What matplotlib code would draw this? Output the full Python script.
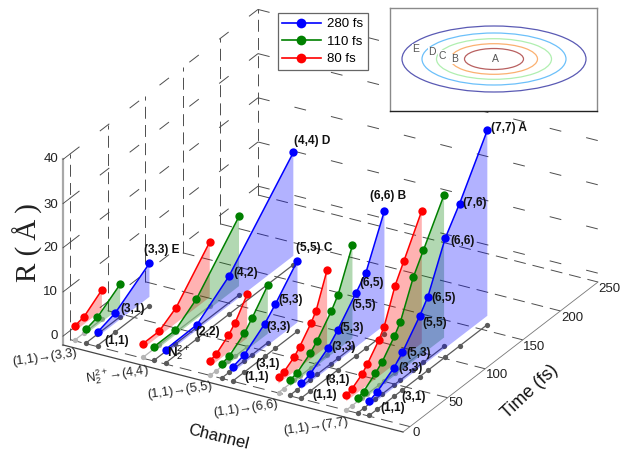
import matplotlib
matplotlib.use("Agg")
import matplotlib.pyplot as plt
from matplotlib.patches import Ellipse
from mpl_toolkits.mplot3d import proj3d
from mpl_toolkits.mplot3d.art3d import Poly3DCollection

plt.rcParams['font.family'] = ['Liberation Sans', 'DejaVu Sans']
plt.rcParams['mathtext.fontset'] = 'custom'
plt.rcParams['mathtext.rm'] = 'Liberation Sans'
plt.rcParams['mathtext.bf'] = 'Liberation Sans:bold'
plt.rcParams['lines.scale_dashes'] = False

# ---- data ----
channels = ['(1,1)→(3,3)', r'$\mathrm{N}_2^{2+}$→(4,4)', '(1,1)→(5,5)', '(1,1)→(6,6)', '(1,1)→(7,7)']
time_ticks = [0, 50, 100, 150, 200, 250]
r_ticks = [0, 10, 20, 30, 40]

t_80 = [[1, 13.4, 37],
        [1, 22.7, 45.3, 90],
        [0.2, 8.5, 24.5, 33.4, 49.3],
        [0.6, 7.5, 21.4, 28.7, 43.6, 50.6, 65.2],
        [0.2, 7.7, 21.4, 28.4, 43.6, 50.6, 65.2, 76.8, 100.7]]
r_80 = [[1.2, 1.7, 4.65],
        [1.1, 1.1, 3.5, 12.5],
        [1.3, 1.8, 3.9, 5.6, 9.9],
        [1.4, 1.7, 3.3, 4.7, 8, 10, 17.3],
        [1.4, 1.8, 3.4, 4.8, 8.2, 10.3, 17.7, 21.7, 30]]
t_110 = [[1.2, 16.2, 46.4],
         [0.8, 29.1, 57.4, 114],
         [0.8, 10.9, 30.8, 41, 61.9],
         [0.8, 10.1, 27.8, 37, 55.7, 65, 84],
         [0.8, 8.3, 24.2, 32.7, 49.4, 57.4, 74.7, 88, 115.4]]
r_110 = [[1.1, 1.85, 5.35],
         [1.1, 1.1, 4.5, 15.8],
         [1.2, 1.7, 4.2, 6.3, 11],
         [1.4, 1.8, 3.95, 5.6, 9.8, 12.4, 21.1],
         [1.35, 1.8, 3.9, 5.2, 8.95, 11.2, 19.1, 23.4, 32.3]]
t_280 = [[1.4, 24.9, 70.4],
         [1.4, 43, 85.6, 171.3],
         [0.6, 15.2, 43, 57.1, 86.4],
         [1, 12.9, 36.8, 49.2, 74, 86.9, 111.6],
         [1, 11.6, 33.8, 45, 68, 79, 102, 121, 158]]
r_280 = [[1.05, 2.3, 7.6],
         [1.05, 1.2, 6.6, 23.4],
         [1.2, 1.9, 5.4, 8, 14],
         [1.3, 1.9, 4.7, 7, 12.3, 15.1, 25.9],
         [1.2, 2, 4.5, 6.5, 11.7, 14.7, 24.9, 30.2, 42]]

point_labels = ['(3,3) E', '(3,1)', '(1,1)', '(4,4) D', '(4,2)', '(2,2)',
                '(5,5) C', '(5,3)', '(3,3)', '(3,1)', '(1,1)',
                '(6,6) B', '(6,5)', '(5,5)', '(5,3)', '(3,3)', '(3,1)', '(1,1)',
                '(7,7) A', '(7,6)', '(6,6)', '(6,5)', '(5,5)', '(5,3)', '(3,3)', '(3,1)', '(1,1)']
point_label_px = [(162, 250), (133, 309), (117, 341), (312, 141), (246, 273), (208, 332),
                  (314, 248), (291, 300), (279, 327), (268, 364), (257, 377),
                  (388, 196), (372, 283), (364, 305), (352, 328), (344, 347), (338, 380), (325, 395),
                  (509, 128), (475, 203), (463, 241), (444, 298), (435, 323), (419, 353), (411, 368), (414, 397), (393, 408)]

contour_names = ['E', 'D', 'C', 'B', 'A']
contour_widths = [184, 144, 115, 87, 59]
contour_heights = [66, 52, 40.6, 30.6, 21]
contour_colors = ['#5a5ab4', '#6cc0fa', '#b0efb0', '#fbb070', '#b86060']
contour_label_px = [(415.7, 49.3), (431.7, 52.3), (442, 55.7), (454.3, 59), (495.3, 59.3)]

# ---- geometry ----
W, H = 640, 453
XMIN, XMAX = 0.775, 5.775
TMIN, TMAX = -9.3, 250
ZMIN, ZMAX = -2, 40
SERIES_DX = 0.165
FLOOR_R = -2
GRID = '#4d4d4d'

fig = plt.figure(figsize=(W / 100, H / 100), dpi=100, facecolor='white')
ax = fig.add_axes([0, 0, 1, 1], projection='3d', computed_zorder=False)
ax.set_proj_type('ortho')
ax.view_init(elev=26.34, azim=-60.02)
ax.set_box_aspect((392.6, 390.3, 207.1))
ax.set_axis_off()


def line3(xs, ys, zs, **kw):
    kw.setdefault('color', GRID)
    kw.setdefault('lw', 0.7)
    return ax.plot(xs, ys, zs, **kw)


dash_wall = (0, (8.6, 18.5))
dash_vert = (0, (8.6, 4.5))
dash_floor = (0, (8.6, 5))

# left wall grid
for t in time_ticks:
    line3([XMIN, XMIN], [t, t], [ZMIN, 40], ls=dash_vert, zorder=1)
for r in r_ticks:
    line3([XMIN, XMIN], [0, TMAX], [r, r], ls=dash_wall, zorder=1)
    line3([XMIN, XMAX], [TMAX, TMAX], [r, r], ls=dash_wall, zorder=1)
# floor grid
for t in time_ticks:
    line3([XMIN, XMAX], [t, t], [ZMIN, ZMIN], ls=dash_floor, zorder=1)

# box edges and ticks
line3([XMIN, XMIN], [TMIN, TMIN], [ZMIN, 40], color='#a8a8a8', lw=1.6, zorder=2)
line3([XMIN, XMAX], [TMIN, TMIN], [ZMIN, ZMIN], color='#444444', lw=0.9, zorder=2)
line3([XMAX, XMAX], [TMIN, TMAX], [ZMIN, ZMIN], color='#777777', lw=0.6, zorder=2)
for r in r_ticks:
    line3([XMIN, XMIN], [TMIN, 0], [r, r], color='#444444', lw=0.6, zorder=2)

styles = ['#ff0000', '#008000', '#0000ff']
floor_colors = ['#b4b4b4', '#5a5a5a', '#5a5a5a']
series = [(t_80, r_80, '80 fs'), (t_110, r_110, '110 fs'), (t_280, r_280, '280 fs')]
handles = {}
zo = 10
for k in range(len(channels)):
    for s, (tt, rr, name) in enumerate(series):
        x = k + 1 + (s - 1) * SERIES_DX
        n = len(tt[k])
        line3([x] * n, tt[k], [FLOOR_R] * n, color=floor_colors[s], lw=0.9, marker='o', ms=3.8,
              mec='none', zorder=zo)
        zo += 1
    for s, (tt, rr, name) in enumerate(series):
        x = k + 1 + (s - 1) * SERIES_DX
        n = len(tt[k])
        col = styles[s]
        verts = [(x, a, b) for a, b in zip(tt[k], rr[k])] + [(x, tt[k][-1], 0), (x, tt[k][0], 0)]
        poly = Poly3DCollection([verts], facecolors=[matplotlib.colors.to_rgba(col, 0.30)],
                                edgecolors='none', zorder=zo)
        ax.add_collection3d(poly)
        zo += 1
        ln, = ax.plot([x] * n, tt[k], rr[k], color=col, lw=1.1, marker='o', ms=6.0, mec='none',
                      zorder=zo, label=name)
        handles[name] = ln
        zo += 1

ax.set_xlim(XMIN, XMAX)
ax.set_ylim(TMIN, TMAX)
ax.set_zlim(ZMIN, ZMAX)

# fit the 3D box onto the page
targets = [((XMIN, TMIN, ZMIN), (63, 345)), ((XMAX, TMIN, ZMIN), (403, 432)), ((XMAX, TMAX, ZMIN), (598, 282))]
for _ in range(2):
    fig.canvas.draw()
    proj = ax.get_proj()
    pts = []
    for (x3, y3, z3), _px in targets:
        X, Y, _z = proj3d.proj_transform(x3, y3, z3, proj)
        pts.append(ax.transData.transform((X, Y)))
    bb = ax.get_position().transformed(fig.transFigure)
    cx, cy, w = (bb.x0 + bb.x1) / 2, (bb.y0 + bb.y1) / 2, bb.width
    ratio = (598 - 63) / (pts[2][0] - pts[0][0])
    ncx = sum(t[1][0] - (p[0] - cx) * ratio for t, p in zip(targets, pts)) / 3
    ncy = sum((H - t[1][1]) - (p[1] - cy) * ratio for t, p in zip(targets, pts)) / 3
    nw = w * ratio
    ax.set_position([(ncx - nw / 2) / W, (ncy - nw / 2) / H, nw / W, nw / H])


def ptext(px, py, s, **kw):
    kw.setdefault('ha', 'center')
    kw.setdefault('va', 'center')
    return fig.text(px / W, 1 - py / H, s, **kw)


for s, (px, py) in zip(point_labels, point_label_px):
    ptext(px, py, s, fontsize=8.6, fontweight='bold', color='#111111', zorder=6)
ptext(179, 353, r'$\mathbf{N}_2^{2+}$', fontsize=9.5, color='#111111', zorder=6)

channel_px = [(45, 358), (117, 374), (180, 391), (246, 409), (316, 427)]
for s, (px, py) in zip(channels, channel_px):
    ptext(px, py, s, fontsize=9.2, rotation=8, color='#222222', rotation_mode='anchor')
time_px = [(416, 432.5), (456, 403), (497.5, 375), (534, 347), (572, 318), (609, 289)]
for s, (px, py) in zip(time_ticks, time_px):
    ptext(px, py, str(s), fontsize=9.5, color='#222222')
r_py = [336, 292, 248, 205, 159]
for s, py in zip(r_ticks, r_py):
    ptext(58, py, str(s), fontsize=9.5, ha='right', color='#222222')

ptext(218, 437, 'Channel', fontsize=12, rotation=-14, color='#111111', rotation_mode='anchor')
ptext(530, 392, 'Time (fs)', fontsize=13, rotation=43, color='#111111', rotation_mode='anchor')
ptext(28, 243, 'R (\u2009Å\u2009)', fontsize=21, rotation=90, family=['Liberation Serif'], color='#222222')

order = ['280 fs', '110 fs', '80 fs']
leg = fig.legend([handles[n] for n in order], order, loc='upper left',
                 bbox_to_anchor=(277.7 / W, 1 - 13.3 / H), borderaxespad=0, fontsize=9.5,
                 handlelength=2.9, handletextpad=0.5, labelspacing=0.4, borderpad=0.35,
                 fancybox=False, edgecolor='#666666', framealpha=1)
leg.get_frame().set_linewidth(0.9)
for line in leg.get_lines():
    line.set_linewidth(1.2)
    line.set_markersize(7)

# contour inset
ia = fig.add_axes([390 / W, 1 - 111 / H, 207 / W, 103.3 / H], zorder=4)
ia.set_xlim(390, 597)
ia.set_ylim(111, 7.7)
ia.set_xticks([])
ia.set_yticks([])
for side in ia.spines.values():
    side.set_color('#8a8a8a')
    side.set_linewidth(1.0)
ia.spines['bottom'].set_color('#222222')
for w_, h_, c_ in zip(contour_widths, contour_heights, contour_colors):
    ia.add_patch(Ellipse((494, 59), w_, h_, fill=False, edgecolor=c_, lw=0.9))
for name, (px, py) in zip(contour_names, contour_label_px):
    ia.text(px, py, name, fontsize=7.5, ha='center', va='center', color='#555555',
            bbox=dict(facecolor='white', edgecolor='none', pad=0.3))

fig.savefig('out.png', dpi=100, facecolor='white')
